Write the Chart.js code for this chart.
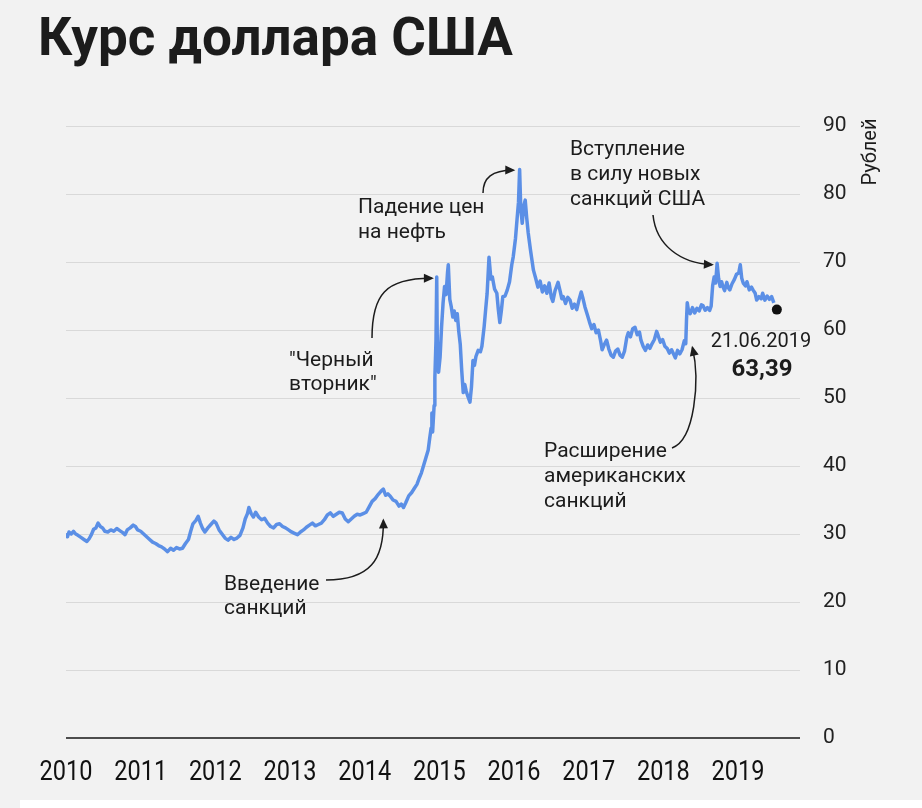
<!DOCTYPE html>
<html lang="ru">
<head>
<meta charset="utf-8">
<title>Курс доллара США</title>
<script src="https://cdn.jsdelivr.net/npm/chart.js@4.4.1/dist/chart.umd.min.js"></script>
<style>
  html, body { margin: 0; padding: 0; background: #f2f2f2; }
  #wrap { width: 922px; height: 808px; position: relative; }
</style>
</head>
<body>
<div id="wrap"><canvas id="chart" width="922" height="808"></canvas></div>
<script>
// tick labels
const years = [2010, 2011, 2012, 2013, 2014, 2015, 2016, 2017, 2018, 2019];
const yTicks = [0, 10, 20, 30, 40, 50, 60, 70, 80, 90];

// USD/RUB, decimal year -> rubles
const dates = [
  2010.00, 2010.02, 2010.04, 2010.07, 2010.10, 2010.13, 2010.16, 2010.20, 2010.24, 2010.28,
  2010.31, 2010.34, 2010.37, 2010.40, 2010.43, 2010.46, 2010.49, 2010.52, 2010.56, 2010.60,
  2010.64, 2010.68, 2010.72, 2010.76, 2010.79, 2010.82, 2010.86, 2010.90, 2010.93, 2010.96,
  2011.00, 2011.04, 2011.08, 2011.12, 2011.16, 2011.20, 2011.24, 2011.28, 2011.32, 2011.36,
  2011.40, 2011.44, 2011.48, 2011.52, 2011.56, 2011.60, 2011.64, 2011.67, 2011.70, 2011.74,
  2011.77, 2011.80, 2011.83, 2011.86, 2011.90, 2011.94, 2011.98, 2012.01, 2012.05, 2012.09,
  2012.13, 2012.17, 2012.21, 2012.25, 2012.29, 2012.33, 2012.37, 2012.40, 2012.43, 2012.45,
  2012.48, 2012.51, 2012.54, 2012.58, 2012.62, 2012.66, 2012.70, 2012.74, 2012.78, 2012.82,
  2012.86, 2012.90, 2012.94, 2012.98, 2013.02, 2013.06, 2013.10, 2013.14, 2013.18, 2013.22,
  2013.26, 2013.30, 2013.34, 2013.38, 2013.42, 2013.46, 2013.50, 2013.54, 2013.58, 2013.62,
  2013.66, 2013.70, 2013.74, 2013.78, 2013.82, 2013.86, 2013.90, 2013.94, 2013.98, 2014.02,
  2014.06, 2014.10, 2014.14, 2014.18, 2014.22, 2014.25, 2014.28, 2014.31, 2014.34, 2014.38,
  2014.42, 2014.46, 2014.49, 2014.52, 2014.55, 2014.59, 2014.63, 2014.67, 2014.70, 2014.73,
  2014.76, 2014.79, 2014.82, 2014.85, 2014.87, 2014.89, 2014.90, 2014.91, 2014.93, 2014.94,
  2014.955, 2014.965, 2014.975, 2014.99, 2015.01, 2015.03, 2015.05, 2015.07, 2015.09, 2015.11,
  2015.12, 2015.14, 2015.16, 2015.18, 2015.20, 2015.22, 2015.24, 2015.26, 2015.28, 2015.30,
  2015.32, 2015.34, 2015.36, 2015.38, 2015.41, 2015.43, 2015.45, 2015.47, 2015.49, 2015.52,
  2015.55, 2015.57, 2015.60, 2015.62, 2015.64, 2015.665, 2015.69, 2015.71, 2015.74, 2015.77,
  2015.79, 2015.81, 2015.83, 2015.85, 2015.88, 2015.91, 2015.94, 2015.97, 2015.99, 2016.02,
  2016.04, 2016.06, 2016.075, 2016.09, 2016.11, 2016.13, 2016.15, 2016.17, 2016.19, 2016.22,
  2016.24, 2016.26, 2016.29, 2016.32, 2016.35, 2016.38, 2016.41, 2016.44, 2016.47, 2016.50,
  2016.52, 2016.55, 2016.57, 2016.59, 2016.62, 2016.64, 2016.66, 2016.69, 2016.72, 2016.75,
  2016.78, 2016.81, 2016.84, 2016.87, 2016.90, 2016.92, 2016.95, 2016.98, 2017.01, 2017.04,
  2017.07, 2017.10, 2017.13, 2017.16, 2017.18, 2017.21, 2017.24, 2017.27, 2017.30, 2017.33,
  2017.36, 2017.39, 2017.42, 2017.45, 2017.48, 2017.51, 2017.53, 2017.56, 2017.59, 2017.62,
  2017.65, 2017.68, 2017.70, 2017.73, 2017.76, 2017.79, 2017.82, 2017.85, 2017.88, 2017.91,
  2017.93, 2017.96, 2017.99, 2018.02, 2018.05, 2018.08, 2018.11, 2018.14, 2018.16, 2018.19,
  2018.22, 2018.25, 2018.28, 2018.30, 2018.31, 2018.32, 2018.34, 2018.36, 2018.39, 2018.42,
  2018.45, 2018.48, 2018.51, 2018.53, 2018.56, 2018.59, 2018.62, 2018.64, 2018.66, 2018.68,
  2018.70, 2018.72, 2018.74, 2018.76, 2018.78, 2018.80, 2018.82, 2018.85, 2018.87, 2018.89,
  2018.92, 2018.95, 2018.98, 2019.01, 2019.03, 2019.05, 2019.07, 2019.10, 2019.12, 2019.15,
  2019.18, 2019.20, 2019.23, 2019.25, 2019.28, 2019.31, 2019.33, 2019.36, 2019.39, 2019.42,
  2019.45, 2019.48
];
const rates = [
  30.1, 29.6, 30.3, 30.0, 30.4, 30.0, 29.8, 29.5, 29.2, 28.9,
  29.3, 29.9, 30.7, 30.9, 31.6, 31.1, 30.9, 30.4, 30.3, 30.6,
  30.4, 30.8, 30.5, 30.2, 29.9, 30.6, 30.9, 31.3, 31.1, 30.6,
  30.4, 30.0, 29.6, 29.2, 28.8, 28.6, 28.3, 28.1, 27.8, 27.4,
  27.9, 27.6, 28.0, 27.8, 27.9, 28.6, 29.2, 30.4, 31.5, 32.0,
  32.6, 31.6, 30.8, 30.3, 30.9, 31.4, 31.9, 31.6, 30.6, 30.0,
  29.4, 29.1, 29.5, 29.2, 29.4, 29.8, 30.9, 32.2, 33.0, 33.9,
  33.0, 32.5, 33.2, 32.5, 32.1, 32.3, 31.6, 31.1, 30.9, 31.4,
  31.5, 31.1, 30.9, 30.6, 30.3, 30.1, 29.9, 30.3, 30.6, 31.0,
  31.3, 31.6, 31.2, 31.4, 31.6, 32.1, 32.8, 33.1, 32.6, 32.9,
  33.2, 33.1, 32.2, 31.8, 32.2, 32.6, 32.9, 32.8, 33.0, 33.2,
  34.0, 34.8, 35.2, 35.8, 36.3, 36.6, 35.7, 35.9, 35.6, 35.0,
  34.8, 34.1, 34.4, 33.9, 34.6, 35.6, 36.1, 36.8, 37.3, 38.2,
  39.0, 40.1, 41.2, 42.3, 44.0, 45.6, 47.8, 45.0, 48.9, 53.0,
  58.5, 67.8, 55.0, 53.8, 56.0, 60.5, 64.0, 66.4, 65.2, 68.5,
  69.6, 64.5, 63.4, 61.9, 62.8, 61.4, 62.4, 59.8, 57.9, 54.0,
  50.8, 52.0, 51.0, 50.3, 49.4, 51.6, 55.5, 54.8, 56.1, 57.0,
  56.8, 57.6, 60.5, 63.0, 65.4, 70.7, 67.5, 67.8, 66.0, 65.4,
  63.0, 61.1, 62.8, 64.9, 65.0, 65.9, 67.1, 69.6, 70.8, 73.5,
  76.2, 78.8, 83.6, 78.0, 75.7, 78.2, 79.1, 76.5, 74.3, 71.8,
  70.3, 68.8, 67.6, 66.3, 67.2, 65.6, 66.5, 65.4, 66.9, 64.8,
  64.2, 65.8, 66.4, 67.0, 65.6, 64.6, 64.9, 63.9, 64.8, 64.4,
  63.2, 63.8, 63.0, 64.4, 65.6, 64.8, 63.4, 62.3, 61.2, 60.2,
  60.8, 59.6, 60.0, 58.4, 57.1, 57.9, 58.5, 57.2, 56.3, 56.0,
  56.9, 57.2, 56.3, 56.0, 56.9, 58.9, 59.6, 59.0, 60.2, 60.4,
  59.3, 59.7, 58.5, 57.6, 57.0, 57.8, 57.3, 58.0, 58.6, 59.8,
  59.2, 58.2, 58.6, 57.6, 57.3, 56.6, 57.1, 56.4, 55.9, 57.0,
  56.5, 57.1, 58.4, 58.0, 61.5, 64.0, 62.6, 62.4, 63.3, 62.5,
  63.2, 62.8, 63.7, 63.6, 62.9, 63.3, 62.9, 63.5, 66.5, 67.8,
  66.9, 69.8, 67.6, 66.4, 67.1, 66.3, 65.8, 67.0, 66.2, 65.9,
  66.8, 67.4, 68.2, 68.4, 69.6, 67.6, 66.9, 66.5, 67.1, 65.9,
  66.3, 65.9, 65.4, 64.4, 64.9, 64.6, 65.4, 64.4, 65.0, 64.5,
  64.9, 64.0
];

// last quote, 21.06.2019
const lastDate = 2019.52;
const lastRate = 63.0;

const INK = "#1c1c1c";

// background, title, narrow year labels and annotations
const notes = {
  id: "notes",
  beforeDraw(chart) {
    const c = chart.ctx;
    c.save();
    c.fillStyle = "#f2f2f2";
    c.fillRect(0, 0, chart.width, chart.height);
    c.restore();
  },
  afterDraw(chart) {
    const c = chart.ctx;
    const sx = chart.scales.x, sy = chart.scales.y;
    const P = (yr, v) => [sx.getPixelForValue(yr), sy.getPixelForValue(v)];

    c.save();
    c.fillStyle = INK;
    c.font = "bold 53px Roboto";
    c.textBaseline = "alphabetic";
    c.fillText("Курс доллара США", 38, 55);

    // year labels in a condensed cut, placed by the x scale
    c.fillStyle = "#111";
    c.font = "28px Roboto";
    c.textAlign = "center";
    c.textBaseline = "middle";
    sx.ticks.forEach((t) => {
      c.save();
      c.translate(sx.getPixelForValue(t.value), 773);
      c.scale(0.84, 1);
      c.fillText(String(t.value), 0, 0);
      c.restore();
    });
    c.fillStyle = INK;

    // axis unit, reads bottom-to-top
    c.save();
    c.translate(871, 152);
    c.rotate(-Math.PI / 2);
    c.font = "20px Roboto";
    c.fillText("Рублей", 0, 0);
    c.restore();

    const text = (lines, x, y, lh) => {
      c.font = "21px Roboto";
      c.textAlign = "left";
      c.textBaseline = "middle";
      lines.forEach((t, i) => c.fillText(t, x, y + i * lh));
    };
    const arrow = (p0, p1, p2, tip) => {
      c.strokeStyle = INK;
      c.lineWidth = 1.5;
      c.beginPath();
      c.moveTo(p0[0], p0[1]);
      c.bezierCurveTo(p1[0], p1[1], p2[0], p2[1], tip[0], tip[1]);
      c.stroke();
      const a = Math.atan2(tip[1] - p2[1], tip[0] - p2[0]);
      c.beginPath();
      c.moveTo(tip[0] + 2 * Math.cos(a), tip[1] + 2 * Math.sin(a));
      c.lineTo(tip[0] - 8 * Math.cos(a) - 4.5 * Math.sin(a), tip[1] - 8 * Math.sin(a) + 4.5 * Math.cos(a));
      c.lineTo(tip[0] - 8 * Math.cos(a) + 4.5 * Math.sin(a), tip[1] - 8 * Math.sin(a) - 4.5 * Math.cos(a));
      c.closePath();
      c.fillStyle = INK;
      c.fill();
    };

    text(["Введение", "санкций"], 224, 585, 24);
    arrow([326, 580], [370, 580], [384, 560], P(2014.25, 32.0));

    text(["\"Черный", "вторник\""], 289, 361, 24);
    arrow([372, 338], [372, 295], [385, 278], P(2014.90, 67.6));

    text(["Падение цен", "на нефть"], 358, 208, 25);
    arrow([483, 193], [483, 178], [492, 170], P(2015.99, 83.5));

    text(["Вступление", "в силу новых", "санкций США"], 570, 150, 25);
    arrow([653, 215], [656, 245], [680, 263], P(2018.65, 69.6));

    text(["Расширение", "американских", "санкций"], 544, 452, 25);
    arrow([672, 448], [695, 440], [700, 380], P(2018.39, 57.4));

    c.textAlign = "center";
    c.textBaseline = "middle";
    c.font = "20px Roboto";
    c.fillText("21.06.2019", 761, 342);
    c.font = "bold 24px Roboto";
    c.fillText("63,39", 762, 370);

    c.fillStyle = "#ffffff";
    c.fillRect(20, 800, chart.width - 20, 8);
    c.restore();
  }
};

const chart = new Chart(document.getElementById("chart"), {
  type: "line",
  data: {
    datasets: [
      {
        data: dates.map((d, i) => ({ x: d, y: rates[i] })),
        borderColor: "#5b8fe6",
        borderWidth: 3.5,
        borderJoinStyle: "round",
        pointRadius: 0,
        tension: 0
      },
      {
        data: [{ x: lastDate, y: lastRate }],
        showLine: false,
        pointRadius: 5,
        pointBorderWidth: 0,
        pointBackgroundColor: "#111"
      }
    ]
  },
  options: {
    responsive: false,
    animation: false,
    layout: { padding: { left: 66, top: 126, right: 0, bottom: 0 } },
    plugins: {
      legend: { display: false },
      tooltip: { enabled: false }
    },
    scales: {
      x: {
        type: "linear",
        min: 2010,
        max: 2019.83,
        afterBuildTicks: (s) => { s.ticks = years.map((v) => ({ value: v })); },
        afterFit: (s) => { s.height = 70; },
        grid: { display: false },
        border: { display: false },
        ticks: { display: false }
      },
      y: {
        position: "right",
        min: 0,
        max: 90,
        afterBuildTicks: (s) => { s.ticks = yTicks.map((v) => ({ value: v })); },
        afterFit: (s) => { s.width = 122; },
        border: { display: false },
        grid: {
          drawTicks: false,
          color: (ctx) => (ctx.tick.value === 0 ? "#4d4d4d" : "#d9d9d9"),
          lineWidth: (ctx) => (ctx.tick.value === 0 ? 2 : 1)
        },
        ticks: {
          padding: 23,
          color: "#222",
          font: { family: "Roboto", size: 21 }
        }
      }
    }
  },
  plugins: [notes]
});
</script>
</body>
</html>
